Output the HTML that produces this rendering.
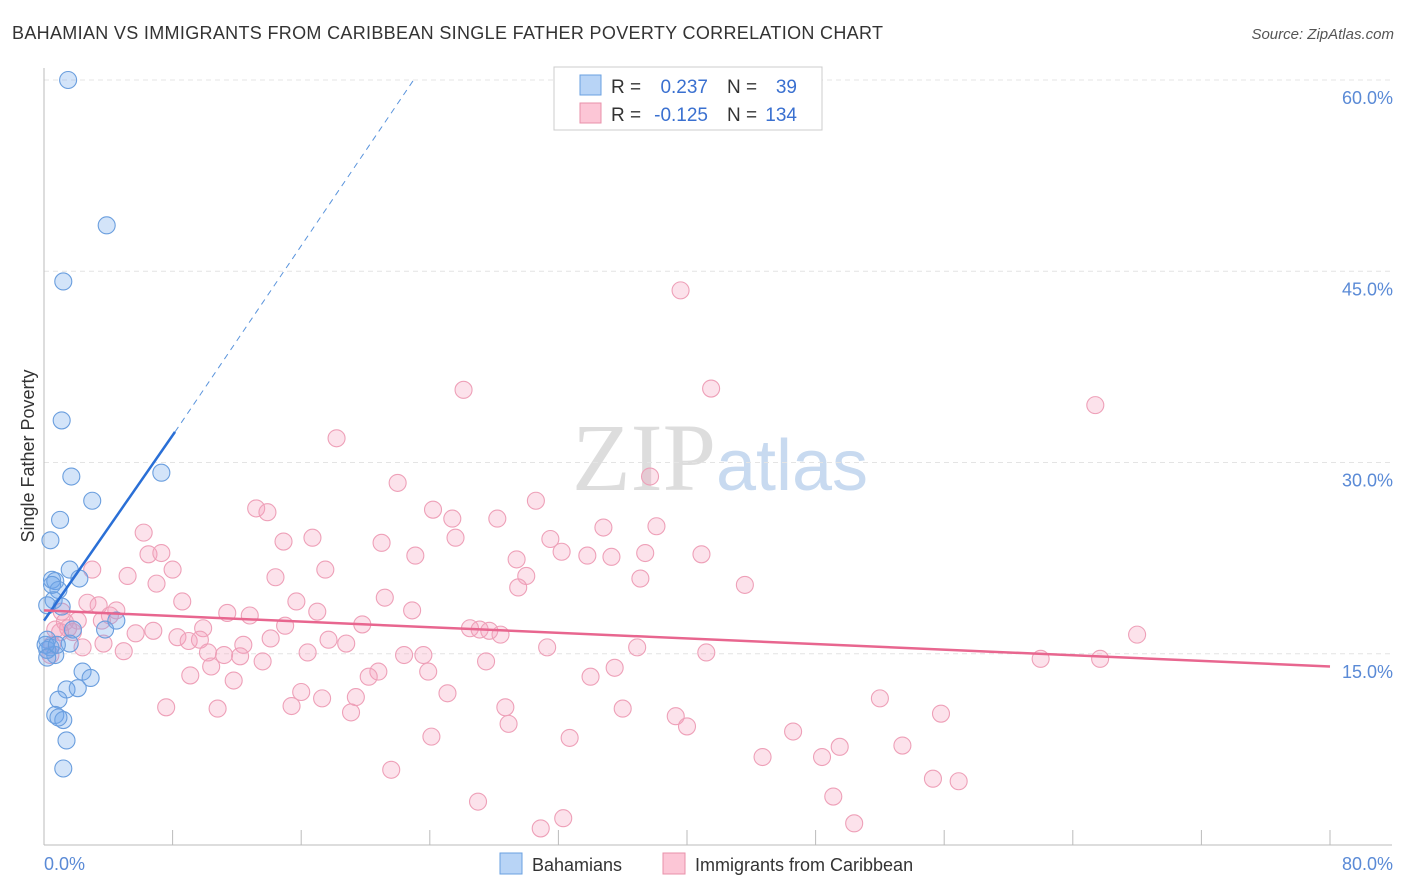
<!DOCTYPE html>
<html><head><meta charset="utf-8"><style>
body{margin:0;background:#fff;font-family:"Liberation Sans",sans-serif}
</style></head><body>
<svg id="chart" width="1406" height="892" xmlns="http://www.w3.org/2000/svg" style="display:block">
<text x="12" y="39" font-size="18" fill="#333" textLength="871" lengthAdjust="spacing">BAHAMIAN VS IMMIGRANTS FROM CARIBBEAN SINGLE FATHER POVERTY CORRELATION CHART</text>
<text x="1394" y="39" font-size="15" fill="#555" text-anchor="end" font-style="italic">Source: ZipAtlas.com</text>
<text x="720" y="490" font-size="96" text-anchor="middle" fill="#ddd" font-family="Liberation Serif,serif">ZIP<tspan fill="#c8daf0" font-family="Liberation Sans,sans-serif" font-size="72">atlas</tspan></text>
<g id="grid"></g><g id="axes"></g><g id="pts"></g><g id="lines"></g>
<text transform="translate(34,456) rotate(-90)" font-size="18" fill="#333" text-anchor="middle">Single Father Poverty</text>
<text x="44" y="870" font-size="18" fill="#5a8ad6">0.0%</text>
<text x="1393" y="870" font-size="18" fill="#5a8ad6" text-anchor="end">80.0%</text>
<g>
<rect x="554" y="67" width="268" height="63" fill="#fff" stroke="#ccc"/>
<rect x="580" y="75" width="21" height="20" fill="#b8d4f6" stroke="#6aa0e0"/>
<rect x="580" y="103" width="21" height="20" fill="#fcc6d6" stroke="#e890aa"/>
<text x="611" y="93" font-size="19" fill="#333">R =</text>
<text x="708" y="93" font-size="19" fill="#3a70d0" text-anchor="end">0.237</text>
<text x="727" y="93" font-size="19" fill="#333">N =</text>
<text x="797" y="93" font-size="19" fill="#3a70d0" text-anchor="end">39</text>
<text x="611" y="121" font-size="19" fill="#333">R =</text>
<text x="708" y="121" font-size="19" fill="#3a70d0" text-anchor="end">-0.125</text>
<text x="727" y="121" font-size="19" fill="#333">N =</text>
<text x="797" y="121" font-size="19" fill="#3a70d0" text-anchor="end">134</text>
</g>
<g>
<rect x="500" y="853" width="22" height="21" fill="#b8d4f6" stroke="#6aa0e0"/>
<text x="532" y="871" font-size="18" fill="#333">Bahamians</text>
<rect x="663" y="853" width="22" height="21" fill="#fcc6d6" stroke="#e890aa"/>
<text x="695" y="871" font-size="18" fill="#333">Immigrants from Caribbean</text>
</g>
</svg>
<script>
const yTicks=[15,30,45,60];
const yTickLabels=["15.0%","30.0%","45.0%","60.0%"];
const xTicks=[0,8,16,24,32,40,48,56,64,72,80];
const blueX=[1.5,3.9,1.2,1.1,1.7,7.3,3.0,1.0,0.4,0.5,0.7,1.6,2.2,0.9,0.6,1.1,0.2,1.8,4.5,3.8,0.2,0.4,0.7,0.2,2.4,1.4,2.9,2.1,0.9,0.7,1.2,0.9,1.4,1.2,0.1,1.6,0.5,0.2,0.8];
const blueY=[60.0,48.6,44.2,33.3,28.9,29.2,27.0,25.5,23.9,20.8,20.7,21.6,20.9,20.0,19.2,18.7,18.8,16.9,17.6,16.9,16.1,15.5,14.9,15.3,13.6,12.2,13.1,12.3,11.4,10.2,9.8,10.0,8.2,6.0,15.7,15.8,20.4,14.7,15.7];
const pinkX=[39.6,41.5,26.1,65.4,18.2,22.0,37.7,30.6,13.2,13.9,24.2,25.4,28.2,34.8,38.1,6.2,14.9,16.7,21.0,25.6,31.5,6.5,7.3,23.1,29.4,32.2,33.8,35.3,37.4,40.9,8.0,17.5,3.0,5.2,14.4,30.0,37.1,7.0,29.5,43.6,21.2,8.6,15.7,2.7,3.4,4.5,4.1,11.4,12.8,17.0,22.9,2.1,3.6,1.3,15.0,19.8,9.9,26.5,27.1,27.7,28.4,68.0,6.8,5.7,1.8,1.0,0.7,8.3,9.0,9.7,14.1,12.4,17.7,18.8,3.7,2.4,4.96,10.2,11.2,12.2,16.4,22.4,23.6,31.3,36.9,41.2,13.6,27.5,62.0,65.7,10.4,23.9,20.8,20.2,9.1,11.8,35.5,34.0,16.0,25.1,17.3,19.4,15.4,7.6,10.8,28.7,36.0,19.1,52.0,39.3,55.8,28.9,40.0,46.6,24.1,32.7,49.5,53.4,48.4,44.7,21.6,55.3,56.9,49.1,27.0,32.3,30.9,50.4,0.4,0.5,1.1,1.5];
const pinkY=[43.5,35.8,35.7,34.5,31.9,28.4,28.9,27.0,26.4,26.1,26.3,25.6,25.6,24.9,25.0,24.5,23.8,24.1,23.7,24.1,24.0,22.8,22.9,22.7,22.4,23.0,22.7,22.6,22.9,22.8,21.6,21.6,21.6,21.1,21.0,21.1,20.9,20.5,20.2,20.4,19.4,19.1,19.1,19.0,18.8,18.4,18.0,18.2,18.0,18.3,18.4,17.6,17.6,17.5,17.2,17.3,17.0,17.0,16.9,16.8,16.5,16.5,16.8,16.6,16.7,16.7,16.9,16.3,16.0,16.1,16.2,15.7,16.1,15.8,15.8,15.5,15.2,15.1,14.9,14.8,15.1,14.9,14.9,15.5,15.5,15.1,14.4,14.4,14.6,14.6,14.0,13.6,13.6,13.2,13.3,12.9,13.9,13.2,12.0,11.9,11.5,11.6,10.9,10.8,10.7,10.8,10.7,10.4,11.5,10.1,10.3,9.5,9.3,8.9,8.5,8.4,7.7,7.8,6.9,6.9,5.9,5.2,5.0,3.8,3.4,2.1,1.3,1.7,14.9,15.7,18.3,17.0];
const blueFit=[0,17.6,8.15,32.4,23.1,60.2];
const pinkFit=[0,18.4,80,14.0];
const X=v=>44+v*16.075, Y=v=>845-v*12.75;
const NS="http://www.w3.org/2000/svg";
function mk(p,t,a){const e=document.createElementNS(NS,t);for(const k in a)e.setAttribute(k,a[k]);document.getElementById(p).appendChild(e);return e;}
yTicks.forEach((t,i)=>{
 const l=mk('grid','line',{x1:44,x2:1392,y1:Y(t),y2:Y(t),stroke:'#e4e4e4','stroke-dasharray':'5,4'});
 
 
 const tx=mk('grid','text',{x:1393,y:Y(t)+24,'font-size':18,fill:'#5a8ad6','text-anchor':'end'});
 tx.textContent=yTickLabels[i];
 
 
});
let a=mk('axes','line',{x1:44,x2:44,y1:68,y2:845,stroke:'#bbb'});


a=mk('axes','line',{x1:44,x2:1392,y1:845,y2:845,stroke:'#bbb'});


xTicks.forEach(t=>{const l=mk('axes','line',{x1:X(t),x2:X(t),y1:830,y2:845,stroke:'#bbb'});
 
 });
pinkX.forEach((v,i)=>{const c=mk('pts','circle',{cx:X(v),cy:Y(pinkY[i]),r:8.5,fill:'rgba(244,160,188,0.3)',stroke:'#eea0b8','stroke-width':1.1});
 
 });
blueX.forEach((v,i)=>{const c=mk('pts','circle',{cx:X(v),cy:Y(blueY[i]),r:8.5,fill:'rgba(110,165,235,0.3)',stroke:'#6a9ede','stroke-width':1.1});
 
 });
let t=mk('lines','line',{x1:X(blueFit[0]),y1:Y(blueFit[1]),x2:X(blueFit[2]),y2:Y(blueFit[3]),stroke:'#2a6fd6','stroke-width':2.5});


t=mk('lines','line',{x1:X(blueFit[2]),y1:Y(blueFit[3]),x2:X(blueFit[4]),y2:Y(blueFit[5]),stroke:'#5a94dc','stroke-width':1,'stroke-dasharray':'6,5'});


t=mk('lines','line',{x1:X(pinkFit[0]),y1:Y(pinkFit[1]),x2:X(pinkFit[2]),y2:Y(pinkFit[3]),stroke:'#e8668f','stroke-width':2.5});


</script>
</body></html>
